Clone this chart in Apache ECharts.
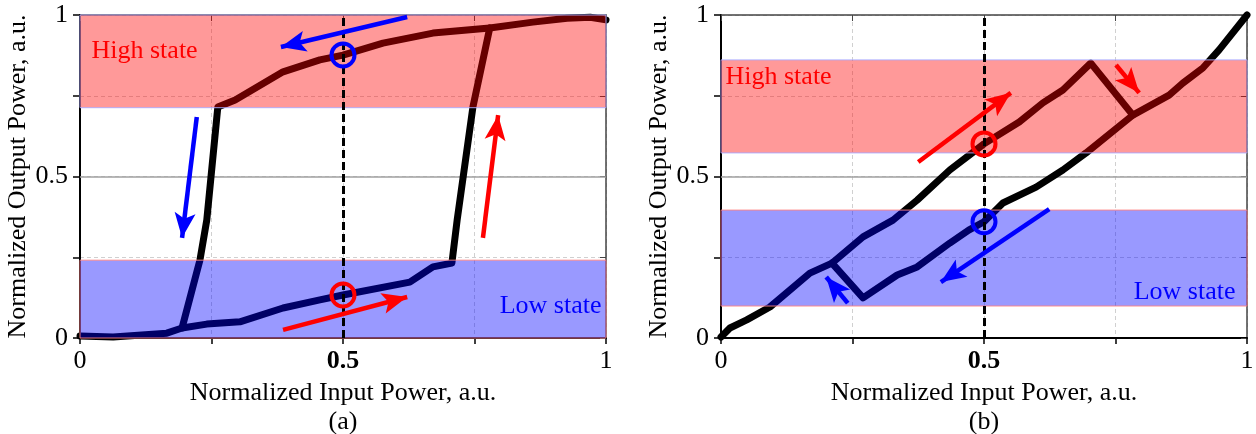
<!DOCTYPE html>
<html><head><meta charset="utf-8">
<script src="https://cdn.jsdelivr.net/npm/echarts@6/dist/echarts.min.js"></script>
<style>html,body{margin:0;padding:0;background:#fff}#c{width:1256px;height:434px}</style>
</head><body><div id="c"></div>
<script>
// ---- data ----
const tickValues = [0, 0.25, 0.5, 0.75, 1];
const tickLabels = {0: '0', 0.5: '0.5', 1: '1'};
// panel (a): hysteresis loop
const aForward = [[0,0.006],[0.063,0.003],[0.165,0.015],[0.194,0.031],[0.241,0.043],[0.304,0.05],[0.386,0.093],[0.456,0.118],[0.5,0.133],[0.627,0.173],[0.671,0.22],[0.707,0.232],[0.717,0.365],[0.747,0.715],[0.779,0.96]];
const aBackward = [[1,0.985],[0.97,0.993],[0.926,0.99],[0.861,0.978],[0.779,0.96],[0.671,0.944],[0.576,0.913],[0.5,0.876],[0.456,0.861],[0.386,0.824],[0.295,0.737],[0.262,0.715],[0.241,0.365],[0.228,0.241],[0.194,0.031]];
const aHighBand = [0.713, 1];
const aLowBand = [0, 0.241];
const aCircleBlue = [0.5, 0.876];
const aCircleRed = [0.5, 0.133];
const aArrowsBlue = [[[0.622,0.994],[0.382,0.901]], [[0.222,0.684],[0.194,0.31]]];
const aArrowsRed = [[[0.386,0.025],[0.622,0.127]], [[0.766,0.31],[0.795,0.69]]];
// panel (b)
const bForward = [[0,0.003],[0.017,0.031],[0.049,0.056],[0.093,0.096],[0.169,0.201],[0.211,0.232],[0.27,0.313],[0.327,0.365],[0.373,0.427],[0.435,0.52],[0.5,0.601],[0.567,0.669],[0.612,0.728],[0.65,0.768],[0.703,0.851],[0.783,0.69]];
const bBackward = [[1,1],[0.947,0.892],[0.916,0.836],[0.878,0.789],[0.852,0.752],[0.783,0.69],[0.694,0.573],[0.65,0.52],[0.599,0.467],[0.536,0.418],[0.5,0.36],[0.471,0.334],[0.435,0.294],[0.373,0.22],[0.335,0.195],[0.27,0.124],[0.211,0.232]];
const bHighBand = [0.573, 0.861];
const bLowBand = [0.099, 0.396];
const bCircleRed = [0.5, 0.601];
const bCircleBlue = [0.5, 0.36];
const bArrowsRed = [[[0.375,0.545],[0.551,0.759]], [[0.751,0.845],[0.795,0.759]]];
const bArrowsBlue = [[[0.624,0.399],[0.418,0.173]], [[0.241,0.108],[0.2,0.189]]];
const highLabel = 'High state';
const lowLabel = 'Low state';
const xName = 'Normalized Input Power, a.u.';
const yName = 'Normalized Output Power, a.u.';
const panelNames = ['(a)', '(b)'];

// ---- styling ----
const FONT = 'Liberation Serif';
const FS = 26;
const RED = '#ff0000', BLUE = '#0000ff';
const HIGH_FILL = 'rgba(255,0,0,0.4)', LOW_FILL = 'rgba(0,0,255,0.4)';
// arrow head whose tip sits at the symbol centre (padded bounding box)
const ARROW_HEAD = 'path://M0,-22 M0,0 L9,22 L0,17 L-9,22 Z';

function xAxes(gi, idx) {
  return [{
    gridIndex: gi, type: 'value', min: 0, max: 1, interval: 0.25, position: 'bottom',
    name: xName + '\n' + panelNames[idx], nameLocation: 'middle', nameGap: 32,
    nameTextStyle: {fontFamily: FONT, fontSize: FS, color: '#000', lineHeight: 29},
    axisLine: {show: true, onZero: false, lineStyle: {color: '#000', width: 2}},
    axisTick: {show: true, length: 6, lineStyle: {color: '#000', width: 1.5}},
    axisLabel: {margin: 10, fontFamily: FONT, fontSize: FS, color: '#000',
      formatter: v => v === 0.5 ? '{b|0.5}' : (tickLabels[v] || ''),
      rich: {b: {fontFamily: FONT, fontSize: FS, fontWeight: 'bold', color: '#000'}}},
    splitLine: {show: true, lineStyle: {color: '#d0d0d0', type: [4, 3], width: 1}}
  }, {
    gridIndex: gi, type: 'value', min: 0, max: 1, interval: 0.25, position: 'top',
    axisLine: {show: true, onZero: false, lineStyle: {color: '#444', width: 1.5}},
    axisTick: {show: true, inside: true, length: 6, lineStyle: {color: '#444'}},
    axisLabel: {show: false}, splitLine: {show: false}
  }];
}
function yAxes(gi, gap) {
  return [{
    gridIndex: gi, type: 'value', min: 0, max: 1, interval: 0.25, position: 'left',
    name: yName, nameLocation: 'middle', nameGap: gap,
    nameTextStyle: {fontFamily: FONT, fontSize: FS, color: '#000'},
    axisLine: {show: true, onZero: false, lineStyle: {color: '#000', width: 2}},
    axisTick: {show: true, length: 7, lineStyle: {color: '#000', width: 1.5}},
    axisLabel: {margin: 12, fontFamily: FONT, fontSize: FS, color: '#000',
      formatter: v => tickLabels[v] || ''},
    splitLine: {show: true, lineStyle: {color: '#d0d0d0', type: [4, 3], width: 1}}
  }, {
    gridIndex: gi, type: 'value', min: 0, max: 1, interval: 0.25, position: 'right',
    axisLine: {show: true, onZero: false, lineStyle: {color: '#444', width: 1.5}},
    axisTick: {show: true, inside: true, length: 6, lineStyle: {color: '#444'}},
    axisLabel: {show: false}, splitLine: {show: false}
  }];
}
function curve(data, xi, yi) {
  return {type: 'line', xAxisIndex: xi, yAxisIndex: yi, data: data, showSymbol: false, symbol: 'none',
    lineStyle: {color: '#000', width: 7, join: 'round', cap: 'round'}, z: 2, silent: true, clip: false};
}
function bands(xi, yi, high, low, highPos, lowPos) {
  return {type: 'line', xAxisIndex: xi, yAxisIndex: yi, data: [], silent: true,
    markArea: {z: 3, silent: true, data: [
      [{coord: [0, high[0]], itemStyle: {color: HIGH_FILL, borderColor: 'rgba(170,170,255,0.9)', borderWidth: 1},
        label: {show: true, position: highPos, formatter: highLabel, color: RED, fontFamily: FONT, fontSize: FS, verticalAlign: 'middle', align: 'left'}},
       {coord: [1, high[1]]}],
      [{coord: [0, low[0]], itemStyle: {color: LOW_FILL, borderColor: 'rgba(255,130,130,0.9)', borderWidth: 1},
        label: {show: true, position: lowPos, formatter: lowLabel, color: BLUE, fontFamily: FONT, fontSize: FS, verticalAlign: 'middle', align: 'right'}},
       {coord: [1, low[1]]}]
    ]}};
}
function guides(xi, yi) {
  return [{
    type: 'line', xAxisIndex: xi, yAxisIndex: yi, data: [], silent: true,
    markLine: {z: 1, silent: true, symbol: 'none', label: {show: false},
      lineStyle: {color: '#a0a0a0', type: 'solid', width: 1.5}, data: [{yAxis: 0.5}]}
  }, {
    type: 'line', xAxisIndex: xi, yAxisIndex: yi, data: [], silent: true,
    markLine: {z: 6, silent: true, symbol: 'none', label: {show: false},
      lineStyle: {color: '#000', type: [8, 4], width: 3}, data: [{xAxis: 0.5}]}
  }];
}
function arrows(list, color, xi, yi) {
  const size = [21, 50];
  return {type: 'line', xAxisIndex: xi, yAxisIndex: yi, data: [], silent: true,
    markLine: {z: 7, silent: true, symbol: ['none', ARROW_HEAD], symbolSize: size, label: {show: false},
      lineStyle: {color: color, type: 'solid', width: 4.5, cap: 'butt'},
      data: list.map(a => [{coord: a[0], symbol: 'none'}, {coord: a[1], symbol: ARROW_HEAD, symbolSize: size}])}};
}
function circle(pt, color, xi, yi) {
  return {type: 'scatter', xAxisIndex: xi, yAxisIndex: yi, data: [pt], symbol: 'circle', symbolSize: 23,
    itemStyle: {color: 'rgba(0,0,0,0)', borderColor: color, borderWidth: 4, opacity: 1}, z: 8, silent: true};
}

const option = {
  animation: false,
  backgroundColor: '#fff',
  grid: [
    {left: 80, top: 15, width: 526, height: 323, show: false, outerBoundsMode: 'none', containLabel: false},
    {left: 721, top: 15, width: 526, height: 323, show: false, outerBoundsMode: 'none', containLabel: false}
  ],
  xAxis: [...xAxes(0, 0), ...xAxes(1, 1)],
  yAxis: [...yAxes(0, 44), ...yAxes(1, 47)],
  series: [
    curve(aForward, 0, 0), curve(aBackward, 0, 0),
    bands(0, 0, aHighBand, aLowBand, [12, 37], [522, 47]),
    ...guides(0, 0),
    arrows(aArrowsBlue, BLUE, 0, 0), arrows(aArrowsRed, RED, 0, 0),
    circle(aCircleBlue, BLUE, 0, 0), circle(aCircleRed, RED, 0, 0),
    curve(bForward, 2, 2), curve(bBackward, 2, 2),
    bands(2, 2, bHighBand, bLowBand, [5, 18], [515, 83]),
    ...guides(2, 2),
    arrows(bArrowsRed, RED, 2, 2), arrows(bArrowsBlue, BLUE, 2, 2),
    circle(bCircleRed, RED, 2, 2), circle(bCircleBlue, BLUE, 2, 2)
  ]
};
const chart = echarts.init(document.getElementById('c'), null, {renderer: 'canvas'});
chart.setOption(option);
</script></body></html>
